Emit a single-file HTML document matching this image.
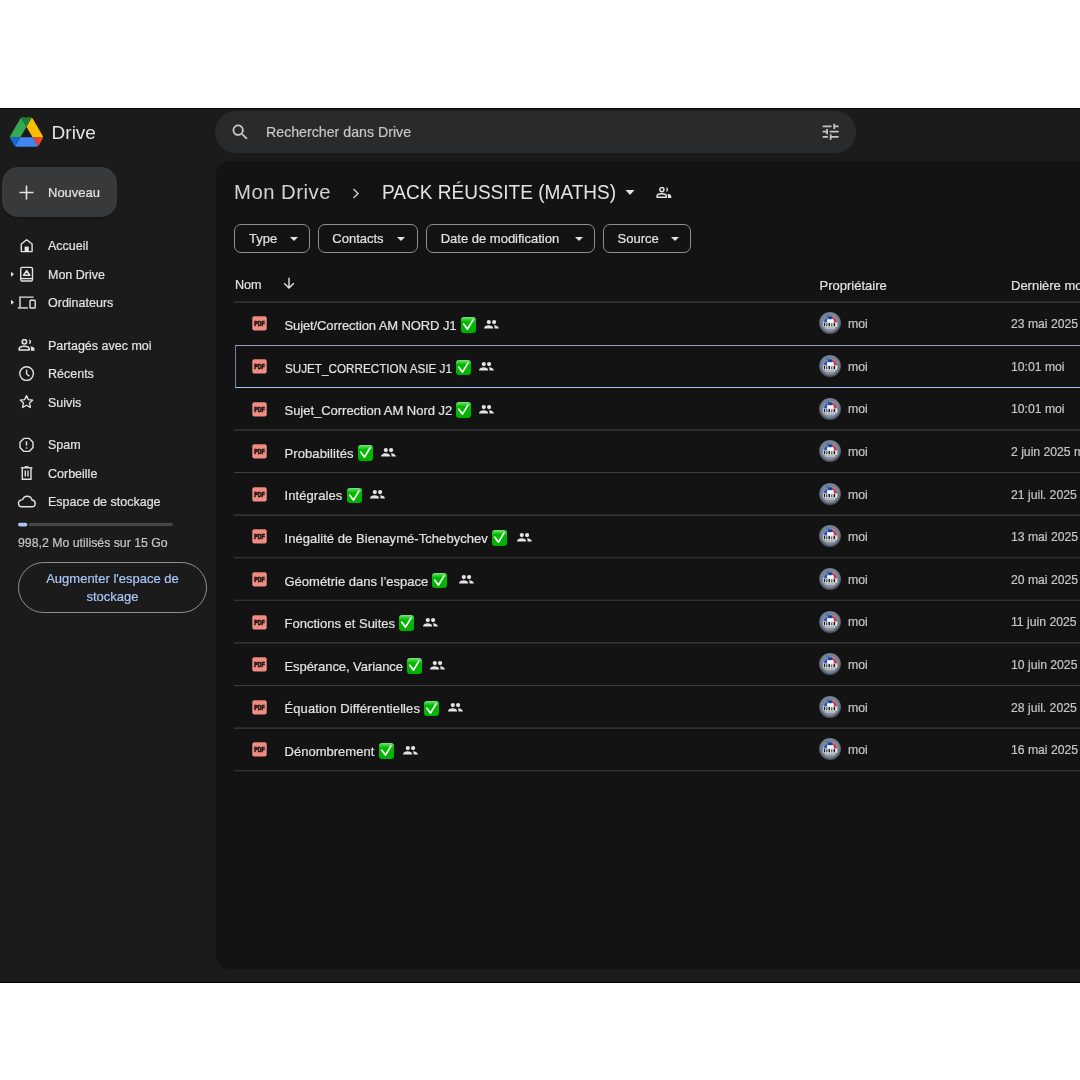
<!DOCTYPE html>
<html lang="fr">
<head>
<meta charset="utf-8">
<title>Drive</title>
<style>
*{margin:0;padding:0;box-sizing:border-box}
html,body{width:1080px;height:1080px;overflow:hidden;background:#fff}
body{position:relative;font-family:"Liberation Sans",Arial,sans-serif;color:#e3e3e3;-webkit-text-stroke:0.2px currentColor}
.abs{position:absolute}
#app{position:absolute;left:0;top:108px;width:1080px;height:875px;background:#1b1b1b;border-top:1px solid #070707;border-bottom:1px solid #070707;overflow:hidden}
.t{position:absolute;white-space:nowrap;line-height:1}
#panel{position:absolute;left:216px;top:161px;width:900px;height:808px;background:#131313;border-radius:14px}
#search{position:absolute;left:215px;top:111px;width:641px;height:42px;background:#282a2c;border-radius:21px}
#newbtn{position:absolute;left:2px;top:167px;width:115px;height:50px;background:#37393b;border-radius:16px;box-shadow:0 1px 2px rgba(0,0,0,.35)}
.nav{font-size:12.5px;color:#e3e3e3}
.chip{position:absolute;top:224px;height:28.5px;border:1px solid #8e918f;border-radius:7px}
.chipt{font-size:13px;color:#e3e3e3}
.fn{position:absolute;left:284.5px;font-size:13px;color:#e3e3e3;white-space:nowrap;line-height:1}
.ck{position:absolute;width:15px;height:15.6px;border-radius:3px;background:linear-gradient(#7de87d 0,#2fcb2f 18%,#00bb00 30%,#00b000 100%)}
.ck svg{position:absolute;left:0;top:0}
.ppl{position:absolute}
.own{position:absolute;left:848px;font-size:12.3px;color:#c4c7c5;line-height:1}
.date{position:absolute;left:1011px;font-size:12.2px;color:#c4c7c5;line-height:1;white-space:nowrap}
.av{position:absolute;left:819px;width:22px;height:22px}
</style>
</head>
<body>
<div id="wrap" style="position:absolute;left:0;top:0;width:1080px;height:1080px;will-change:transform">
<svg width="0" height="0" style="position:absolute">
<defs>
<radialGradient id="avg" cx="50%" cy="50%" r="50%"><stop offset="0" stop-color="#b0b6c0"/><stop offset="0.7" stop-color="#8e97a5"/><stop offset="1" stop-color="#6f7987"/></radialGradient>
<radialGradient id="avr" cx="50%" cy="45%" r="50%"><stop offset="0.8" stop-color="#7c8697"/><stop offset="1" stop-color="#4e5764"/></radialGradient>
<filter id="avb" x="-10%" y="-10%" width="120%" height="120%"><feGaussianBlur stdDeviation="0.35"/></filter>
<symbol id="avatar" viewBox="0 0 22 22">
<circle cx="11" cy="11" r="11" fill="url(#avr)"/>
<circle cx="11" cy="11" r="9.2" fill="url(#avg)"/>
<g filter="url(#avb)">
<path d="M4.6 13 L5.4 8 C5.9 6.6 7 5.8 8.4 5.9 L8 10.6 L6.6 13.4 Z" fill="#2b58c0"/>
<path d="M7.2 3.4 C8.2 2.8 9.6 2.8 10.3 3.5 L9.5 5.5 L7.6 5.7 Z" fill="#4471d0"/>
<path d="M9 4.7 C10.3 4 12.3 4 13.8 4.9 L13.3 7.3 L9.2 7.3 Z" fill="#1f3f8f"/>
<path d="M13.6 5.3 C15.6 5.7 17.2 7.5 17.8 9.6 L17.4 12 L15.4 12.2 L14.3 7.9 Z" fill="#dc2f3c"/>
<path d="M13.8 3.5 C14.8 3.6 15.6 4.3 15.8 4.9 L14.2 5.3 Z" fill="#ec7a84"/>
<rect x="8.2" y="7.3" width="6.4" height="3.3" fill="#f4f5f7"/>
<rect x="4" y="10.5" width="14.2" height="4.2" fill="#eceef2"/>
<path d="M4.8 11 h1.4 v3.2 h-1.4z M7.3 11.2 h1 v3 h-1z M9.5 11 h1.5 v3.2 h-1.5z M12.3 11.4 h1 v2.8 h-1z M14.6 11 h1.6 v3.2 h-1.6z" fill="#1c1e22"/>
<rect x="6.2" y="14.8" width="9.8" height="1.9" fill="#d4d7dc"/>
<path d="M7 15.4 h1 v0.8 h-1z M9.2 15.4 h1.2 v0.8 h-1.2z M11.6 15.4 h1 v0.8 h-1z M13.6 15.4 h1.2 v0.8 h-1.2z" fill="#5a5e66"/>
</g>
</symbol>
<symbol id="pplo" viewBox="0 0 16 11">
<circle cx="5.9" cy="2.6" r="2.05" fill="none" stroke="#e3e3e3" stroke-width="1.5"/>
<path d="M1 10.2 V9.4 C1 7.8 3.3 6.8 5.7 6.8 C8.1 6.8 10.4 7.8 10.4 9.4 V10.2 Z" fill="none" stroke="#e3e3e3" stroke-width="1.4" stroke-linejoin="round"/>
<path d="M9.9 0.4 A2.25 2.2 0 0 1 9.9 4.8 C10.5 4 10.7 3.3 10.7 2.6 C10.7 1.9 10.5 1.2 9.9 0.4 Z" fill="#e3e3e3"/>
<path d="M11.6 6.8 C14 7.1 15.3 8.2 15.3 9.6 V10.9 H11.9 V9.4 C11.9 8.3 11.9 7.5 11.6 6.8 Z" fill="#e3e3e3"/>
</symbol>
</defs>
</svg>
<div id="app"></div>
<div id="panel"></div>
<div id="search"></div>

<!-- Logo -->
<svg class="abs" style="left:10px;top:117px" width="33" height="30" viewBox="0 0 87.3 78">
<path d="m6.6 66.85 3.85 6.65c.8 1.4 1.95 2.5 3.3 3.3l13.75-23.8h-27.5c0 1.55.4 3.1 1.2 4.5z" fill="#1967d2"/>
<path d="m43.65 25-13.75-23.8c-1.35.8-2.5 1.9-3.3 3.3l-25.4 44a9.06 9.06 0 0 0 -1.2 4.5h27.5z" fill="#34a853"/>
<path d="m73.55 76.8c1.35-.8 2.5-1.9 3.3-3.3l1.6-2.75 7.65-13.25c.8-1.4 1.2-2.95 1.2-4.5h-27.502l5.852 11.5z" fill="#ea4335"/>
<path d="m43.65 25 13.75-23.8c-1.35-.8-2.9-1.2-4.5-1.2h-18.5c-1.6 0-3.15.45-4.5 1.2z" fill="#188038"/>
<path d="m59.8 53h-32.3l-13.75 23.8c1.35.8 2.9 1.2 4.5 1.2h50.8c1.6 0 3.15-.45 4.5-1.2z" fill="#4285f4"/>
<path d="m73.4 26.5-12.7-22c-.8-1.4-1.95-2.5-3.3-3.3l-13.75 23.8 16.15 28h27.45c0-1.55-.4-3.1-1.2-4.5z" fill="#fbbc04"/>
</svg>
<div class="t" style="left:51.6px;top:122.6px;font-size:19px;-webkit-text-stroke:0;color:#e3e3e3">Drive</div>

<!-- search -->
<svg class="abs" style="left:230.3px;top:122.4px" width="20.6" height="20.6" viewBox="0 0 24 24"><path fill="#c4c7c5" d="M15.5 14h-.79l-.28-.27C15.41 12.59 16 11.110 16 9.5 16 5.91 13.09 3 9.5 3S3 5.91 3 9.5 5.91 16 9.5 16c1.61 0 3.09-.59 4.23-1.570l.27.28v.79l5 4.99L20.49 19l-4.99-5zm-6 0C7.01 14 5 11.99 5 9.5S7.01 5 9.5 5 14 7.01 14 9.5 11.99 14 9.5 14z"/></svg>
<div class="t" style="left:266px;top:125.2px;font-size:14.2px;color:#c4c7c5">Rechercher dans Drive</div>
<svg class="abs" style="left:820.3px;top:121.1px" width="21.3" height="21.3" viewBox="0 0 24 24"><path fill="#c4c7c5" d="M3 17v2h6v-2H3zM3 5v2h10V5H3zm10 16v-2h8v-2h-8v-2h-2v6h2zM7 9v2H3v2h4v2h2V9H7zm14 4v-2H11v2h10zm-6-4h2V7h4V5h-4V3h-2v6z"/></svg>

<!-- Nouveau -->
<div id="newbtn"></div>
<svg class="abs" style="left:19px;top:185px" width="15" height="15" viewBox="0 0 15 15"><path d="M7.5 0.5v14M0.5 7.5h14" stroke="#e3e3e3" stroke-width="1.6"/></svg>
<div class="t" style="left:48px;top:186px;font-size:13px;color:#e3e3e3">Nouveau</div>

<!-- sidebar icons -->
<svg class="abs" style="left:0;top:0" width="216" height="620" viewBox="0 0 216 620" fill="none" stroke="#e3e3e3" stroke-width="1.4">
 <!-- home -->
 <path d="M21.3 244 L26.7 239.8 L32.1 244 V251.6 H21.3 Z" stroke-linejoin="round"/>
 <rect x="24.6" y="246.6" width="4.2" height="5" fill="#e3e3e3" stroke="none"/>
 <!-- mon drive expand tri -->
 <path d="M11 271.7 L14 274.2 L11 276.7 Z" fill="#e3e3e3" stroke="none"/>
 <rect x="20.7" y="267.4" width="11.8" height="13.6" rx="1.6"/>
 <path d="M20.7 278.6 H32.5"/>
 <path d="M26.7 270.6 L29.7 275.3 L23.6 275.3 Z" stroke-width="1.6" stroke-linejoin="round"/>
 <!-- ordinateurs -->
 <path d="M11 299.7 L14 302.2 L11 304.7 Z" fill="#e3e3e3" stroke="none"/>
 <path d="M33.6 297.1 H20 V307.4"/>
 <path d="M17.8 307.9 H28"/>
 <rect x="30" y="300.3" width="5.2" height="7.7" rx="0.8"/>
 <!-- recents -->
 <circle cx="26.6" cy="373.6" r="6.8"/>
 <path d="M26.6 369.8 V374 L29.4 376.3"/>
 <!-- suivis -->
 <path d="M26.5 395.6 L28.4 399.6 L32.8 400.1 L29.5 403.1 L30.4 407.5 L26.5 405.3 L22.6 407.5 L23.5 403.1 L20.2 400.1 L24.6 399.6 Z" stroke-linejoin="round" stroke-width="1.3"/>
 <!-- spam -->
 <path d="M23.8 438.4 H29.2 L33 442.2 V447.6 L29.2 451.4 H23.8 L20 447.6 V442.2 Z" stroke-linejoin="round"/>
 <path d="M26.5 441.3 V445.6"/>
 <circle cx="26.5" cy="448" r="0.8" fill="#e3e3e3" stroke="none"/>
 <!-- corbeille -->
 <path d="M20.9 467.8 H32.4"/>
 <path d="M24.6 466.8 H28.6"/>
 <path d="M22.3 468 V479.2 H31 V468"/>
 <path d="M25.3 470.5 V476.6 M28 470.5 V476.6"/>
 <!-- cloud -->
 <path d="M22 506.8 H31.8 C34 506.8 35.2 505.2 35.2 503.4 C35.2 501.5 33.8 500.1 32 500 C31.4 497.6 29.4 496.3 27.2 496.3 C25.2 496.3 23.4 497.5 22.7 499.6 C20.2 499.8 18.5 501.3 18.5 503.3 C18.5 505.3 20 506.8 22 506.8 Z" stroke-linejoin="round"/>
 <!-- storage -->
 <rect x="28.8" y="523" width="144.2" height="3" rx="1.5" fill="#444746" stroke="none"/>
 <rect x="18" y="522.8" width="9.4" height="3.6" rx="1.8" fill="#a8c7fa" stroke="#1b1b1b" stroke-width="0"/>
</svg>

<svg class="abs" style="left:18.1px;top:339.1px" width="17.4" height="11.9" viewBox="0 0 16 11"><use href="#pplo"/></svg>
<div class="t nav" style="left:48px;top:240px">Accueil</div>
<div class="t nav" style="left:48px;top:269px">Mon Drive</div>
<div class="t nav" style="left:48px;top:297px">Ordinateurs</div>
<div class="t nav" style="left:48px;top:340px">Partagés avec moi</div>
<div class="t nav" style="left:48px;top:368px">Récents</div>
<div class="t nav" style="left:48px;top:396.5px">Suivis</div>
<div class="t nav" style="left:48px;top:439px">Spam</div>
<div class="t nav" style="left:48px;top:467.5px">Corbeille</div>
<div class="t nav" style="left:48px;top:496px">Espace de stockage</div>
<div class="t" style="left:18px;top:537px;font-size:12.3px;color:#c4c7c5">998,2 Mo utilisés sur 15 Go</div>
<div class="abs" style="left:18px;top:562px;width:189px;height:51px;border:1px solid #8e918f;border-radius:26px"></div>
<div class="abs" style="left:18px;top:570.4px;width:189px;text-align:center;font-size:13px;line-height:17.8px;color:#a8c7fa">Augmenter l'espace de<br>stockage</div>

<!-- breadcrumb -->
<div class="t" style="left:234px;top:182px;font-size:20.3px;color:#d2d4d3;-webkit-text-stroke:0;letter-spacing:0.5px">Mon Drive</div>
<svg class="abs" style="left:352px;top:187.5px" width="8" height="11" viewBox="0 0 8 11"><path d="M1.5 1 L6 5.5 L1.5 10" stroke="#c4c7c5" stroke-width="1.5" fill="none"/></svg>
<div class="t" style="left:382px;top:182px;font-size:20.3px;color:#e3e3e3;-webkit-text-stroke:0;transform:scaleX(0.9387);transform-origin:0 0">PACK RÉUSSITE (MATHS)</div>
<svg class="abs" style="left:625px;top:190px" width="10" height="5" viewBox="0 0 10 5"><path d="M0.5 0 L9.5 0 L5 5 Z" fill="#e3e3e3"/></svg>
<svg class="abs" style="left:656px;top:187px" width="16" height="11"><use href="#pplo"/></svg>

<!-- chips -->
<div class="chip" style="left:234px;width:76px"></div>
<div class="t chipt" style="left:249px;top:232px">Type</div>
<svg class="abs" style="left:289.5px;top:236.5px" width="8" height="4" viewBox="0 0 8 4"><path d="M0 0H8L4 4Z" fill="#e3e3e3"/></svg>
<div class="chip" style="left:317.5px;width:100.5px"></div>
<div class="t chipt" style="left:332.3px;top:232px">Contacts</div>
<svg class="abs" style="left:397px;top:236.5px" width="8" height="4" viewBox="0 0 8 4"><path d="M0 0H8L4 4Z" fill="#e3e3e3"/></svg>
<div class="chip" style="left:425.5px;width:169.5px"></div>
<div class="t chipt" style="left:440.7px;top:232px">Date de modification</div>
<svg class="abs" style="left:574.5px;top:236.5px" width="8" height="4" viewBox="0 0 8 4"><path d="M0 0H8L4 4Z" fill="#e3e3e3"/></svg>
<div class="chip" style="left:602.5px;width:88.5px"></div>
<div class="t chipt" style="left:617.6px;top:232px">Source</div>
<svg class="abs" style="left:670.8px;top:236.5px" width="8" height="4" viewBox="0 0 8 4"><path d="M0 0H8L4 4Z" fill="#e3e3e3"/></svg>

<!-- header row -->
<div class="t" style="left:235px;top:278.5px;font-size:12.6px;color:#e3e3e3">Nom</div>
<svg class="abs" style="left:283px;top:276.8px" width="12" height="12" viewBox="0 0 12 12"><path d="M6 0.8 V11 M1.2 6.3 L6 11 L10.8 6.3" stroke="#e3e3e3" stroke-width="1.4" fill="none"/></svg>
<div class="t" style="left:819.5px;top:278.5px;font-size:13px;color:#e3e3e3">Propriétaire</div>
<div class="t" style="left:1011px;top:278.5px;font-size:13px;color:#e3e3e3">Dernière modification</div>

<!--ROWS-->
<svg class="abs" style="left:0;top:0" width="1080" height="800"><line x1="234" x2="1080" y1="302.10" y2="302.10" stroke="#3c3d3e" stroke-width="1.1"/><line x1="234" x2="1080" y1="429.90" y2="429.90" stroke="#3c3d3e" stroke-width="1.1"/><line x1="234" x2="1080" y1="472.50" y2="472.50" stroke="#3c3d3e" stroke-width="1.1"/><line x1="234" x2="1080" y1="515.10" y2="515.10" stroke="#3c3d3e" stroke-width="1.1"/><line x1="234" x2="1080" y1="557.70" y2="557.70" stroke="#3c3d3e" stroke-width="1.1"/><line x1="234" x2="1080" y1="600.30" y2="600.30" stroke="#3c3d3e" stroke-width="1.1"/><line x1="234" x2="1080" y1="642.90" y2="642.90" stroke="#3c3d3e" stroke-width="1.1"/><line x1="234" x2="1080" y1="685.50" y2="685.50" stroke="#3c3d3e" stroke-width="1.1"/><line x1="234" x2="1080" y1="728.10" y2="728.10" stroke="#3c3d3e" stroke-width="1.1"/><line x1="234" x2="1080" y1="770.70" y2="770.70" stroke="#3c3d3e" stroke-width="1.1"/></svg>
<svg class="abs" style="left:252px;top:316.4px" width="15" height="15" viewBox="0 0 15 15"><rect x="0.3" y="0.2" width="14.4" height="14.2" rx="2" fill="#f28b82"/><text x="2.3" y="9.9" font-family="Liberation Sans,sans-serif" font-weight="bold" font-size="6.5" fill="#141414" stroke="#141414" stroke-width="0.65" textLength="10.3" lengthAdjust="spacingAndGlyphs">PDF</text></svg>
<div class="fn" style="top:318.9px;letter-spacing:-0.109px">Sujet/Correction AM NORD J1</div>
<div class="ck" style="left:460.6px;top:317.2px"><svg width="15" height="15.6" viewBox="0 0 15 15.6"><path d="M2.8 7.3 L6.5 12.1 L11.9 3.1" stroke="#fff" stroke-width="1.75" fill="none" stroke-linecap="round" stroke-linejoin="round"/></svg></div>
<svg class="ppl" style="left:484.0px;top:319.7px" width="15" height="9" viewBox="0 0 15 9"><circle cx="4.8" cy="2.1" r="2.1" fill="#e3e3e3"/><circle cx="10.1" cy="2.1" r="2.1" fill="#e3e3e3"/><path d="M0 8.6 C0 6.2 2.4 5.2 4.6 5.2 C6.8 5.2 9.2 6.2 9.2 8.6 Z" fill="#e3e3e3"/><path d="M10 5.2 C12.6 5.4 14.9 6.4 14.9 8.6 H10.6 C10.6 7.2 10.4 6 10 5.2 Z" fill="#e3e3e3"/></svg>
<svg class="av" style="top:312.4px" viewBox="0 0 22 22"><use href="#avatar"/></svg>
<div class="own" style="top:318.2px">moi</div>
<div class="date" style="top:318.2px">23 mai 2025</div>
<svg class="abs" style="left:252px;top:359.0px" width="15" height="15" viewBox="0 0 15 15"><rect x="0.3" y="0.2" width="14.4" height="14.2" rx="2" fill="#f28b82"/><text x="2.3" y="9.9" font-family="Liberation Sans,sans-serif" font-weight="bold" font-size="6.5" fill="#141414" stroke="#141414" stroke-width="0.65" textLength="10.3" lengthAdjust="spacingAndGlyphs">PDF</text></svg>
<div class="fn" style="top:361.5px;transform:scaleX(0.8990);transform-origin:0 0">SUJET_CORRECTION ASIE J1</div>
<div class="ck" style="left:455.6px;top:359.8px"><svg width="15" height="15.6" viewBox="0 0 15 15.6"><path d="M2.8 7.3 L6.5 12.1 L11.9 3.1" stroke="#fff" stroke-width="1.75" fill="none" stroke-linecap="round" stroke-linejoin="round"/></svg></div>
<svg class="ppl" style="left:478.6px;top:362.3px" width="15" height="9" viewBox="0 0 15 9"><circle cx="4.8" cy="2.1" r="2.1" fill="#e3e3e3"/><circle cx="10.1" cy="2.1" r="2.1" fill="#e3e3e3"/><path d="M0 8.6 C0 6.2 2.4 5.2 4.6 5.2 C6.8 5.2 9.2 6.2 9.2 8.6 Z" fill="#e3e3e3"/><path d="M10 5.2 C12.6 5.4 14.9 6.4 14.9 8.6 H10.6 C10.6 7.2 10.4 6 10 5.2 Z" fill="#e3e3e3"/></svg>
<svg class="av" style="top:355.0px" viewBox="0 0 22 22"><use href="#avatar"/></svg>
<div class="own" style="top:360.8px">moi</div>
<div class="date" style="top:360.8px">10:01 moi</div>
<svg class="abs" style="left:252px;top:401.6px" width="15" height="15" viewBox="0 0 15 15"><rect x="0.3" y="0.2" width="14.4" height="14.2" rx="2" fill="#f28b82"/><text x="2.3" y="9.9" font-family="Liberation Sans,sans-serif" font-weight="bold" font-size="6.5" fill="#141414" stroke="#141414" stroke-width="0.65" textLength="10.3" lengthAdjust="spacingAndGlyphs">PDF</text></svg>
<div class="fn" style="top:404.1px;letter-spacing:-0.024px">Sujet_Correction AM Nord J2</div>
<div class="ck" style="left:456.4px;top:402.4px"><svg width="15" height="15.6" viewBox="0 0 15 15.6"><path d="M2.8 7.3 L6.5 12.1 L11.9 3.1" stroke="#fff" stroke-width="1.75" fill="none" stroke-linecap="round" stroke-linejoin="round"/></svg></div>
<svg class="ppl" style="left:479.4px;top:404.9px" width="15" height="9" viewBox="0 0 15 9"><circle cx="4.8" cy="2.1" r="2.1" fill="#e3e3e3"/><circle cx="10.1" cy="2.1" r="2.1" fill="#e3e3e3"/><path d="M0 8.6 C0 6.2 2.4 5.2 4.6 5.2 C6.8 5.2 9.2 6.2 9.2 8.6 Z" fill="#e3e3e3"/><path d="M10 5.2 C12.6 5.4 14.9 6.4 14.9 8.6 H10.6 C10.6 7.2 10.4 6 10 5.2 Z" fill="#e3e3e3"/></svg>
<svg class="av" style="top:397.6px" viewBox="0 0 22 22"><use href="#avatar"/></svg>
<div class="own" style="top:403.4px">moi</div>
<div class="date" style="top:403.4px">10:01 moi</div>
<svg class="abs" style="left:252px;top:444.2px" width="15" height="15" viewBox="0 0 15 15"><rect x="0.3" y="0.2" width="14.4" height="14.2" rx="2" fill="#f28b82"/><text x="2.3" y="9.9" font-family="Liberation Sans,sans-serif" font-weight="bold" font-size="6.5" fill="#141414" stroke="#141414" stroke-width="0.65" textLength="10.3" lengthAdjust="spacingAndGlyphs">PDF</text></svg>
<div class="fn" style="top:446.7px;letter-spacing:0.098px">Probabilités</div>
<div class="ck" style="left:357.8px;top:445.0px"><svg width="15" height="15.6" viewBox="0 0 15 15.6"><path d="M2.8 7.3 L6.5 12.1 L11.9 3.1" stroke="#fff" stroke-width="1.75" fill="none" stroke-linecap="round" stroke-linejoin="round"/></svg></div>
<svg class="ppl" style="left:381.4px;top:447.5px" width="15" height="9" viewBox="0 0 15 9"><circle cx="4.8" cy="2.1" r="2.1" fill="#e3e3e3"/><circle cx="10.1" cy="2.1" r="2.1" fill="#e3e3e3"/><path d="M0 8.6 C0 6.2 2.4 5.2 4.6 5.2 C6.8 5.2 9.2 6.2 9.2 8.6 Z" fill="#e3e3e3"/><path d="M10 5.2 C12.6 5.4 14.9 6.4 14.9 8.6 H10.6 C10.6 7.2 10.4 6 10 5.2 Z" fill="#e3e3e3"/></svg>
<svg class="av" style="top:440.2px" viewBox="0 0 22 22"><use href="#avatar"/></svg>
<div class="own" style="top:446.0px">moi</div>
<div class="date" style="top:446.0px">2 juin 2025 moi</div>
<svg class="abs" style="left:252px;top:486.8px" width="15" height="15" viewBox="0 0 15 15"><rect x="0.3" y="0.2" width="14.4" height="14.2" rx="2" fill="#f28b82"/><text x="2.3" y="9.9" font-family="Liberation Sans,sans-serif" font-weight="bold" font-size="6.5" fill="#141414" stroke="#141414" stroke-width="0.65" textLength="10.3" lengthAdjust="spacingAndGlyphs">PDF</text></svg>
<div class="fn" style="top:489.3px;letter-spacing:0.071px">Intégrales</div>
<div class="ck" style="left:346.5px;top:487.6px"><svg width="15" height="15.6" viewBox="0 0 15 15.6"><path d="M2.8 7.3 L6.5 12.1 L11.9 3.1" stroke="#fff" stroke-width="1.75" fill="none" stroke-linecap="round" stroke-linejoin="round"/></svg></div>
<svg class="ppl" style="left:369.8px;top:490.1px" width="15" height="9" viewBox="0 0 15 9"><circle cx="4.8" cy="2.1" r="2.1" fill="#e3e3e3"/><circle cx="10.1" cy="2.1" r="2.1" fill="#e3e3e3"/><path d="M0 8.6 C0 6.2 2.4 5.2 4.6 5.2 C6.8 5.2 9.2 6.2 9.2 8.6 Z" fill="#e3e3e3"/><path d="M10 5.2 C12.6 5.4 14.9 6.4 14.9 8.6 H10.6 C10.6 7.2 10.4 6 10 5.2 Z" fill="#e3e3e3"/></svg>
<svg class="av" style="top:482.8px" viewBox="0 0 22 22"><use href="#avatar"/></svg>
<div class="own" style="top:488.6px">moi</div>
<div class="date" style="top:488.6px">21 juil. 2025</div>
<svg class="abs" style="left:252px;top:529.4px" width="15" height="15" viewBox="0 0 15 15"><rect x="0.3" y="0.2" width="14.4" height="14.2" rx="2" fill="#f28b82"/><text x="2.3" y="9.9" font-family="Liberation Sans,sans-serif" font-weight="bold" font-size="6.5" fill="#141414" stroke="#141414" stroke-width="0.65" textLength="10.3" lengthAdjust="spacingAndGlyphs">PDF</text></svg>
<div class="fn" style="top:531.9px;letter-spacing:0.056px">Inégalité de Bienaymé-Tchebychev</div>
<div class="ck" style="left:492.1px;top:530.2px"><svg width="15" height="15.6" viewBox="0 0 15 15.6"><path d="M2.8 7.3 L6.5 12.1 L11.9 3.1" stroke="#fff" stroke-width="1.75" fill="none" stroke-linecap="round" stroke-linejoin="round"/></svg></div>
<svg class="ppl" style="left:516.5px;top:532.7px" width="15" height="9" viewBox="0 0 15 9"><circle cx="4.8" cy="2.1" r="2.1" fill="#e3e3e3"/><circle cx="10.1" cy="2.1" r="2.1" fill="#e3e3e3"/><path d="M0 8.6 C0 6.2 2.4 5.2 4.6 5.2 C6.8 5.2 9.2 6.2 9.2 8.6 Z" fill="#e3e3e3"/><path d="M10 5.2 C12.6 5.4 14.9 6.4 14.9 8.6 H10.6 C10.6 7.2 10.4 6 10 5.2 Z" fill="#e3e3e3"/></svg>
<svg class="av" style="top:525.4px" viewBox="0 0 22 22"><use href="#avatar"/></svg>
<div class="own" style="top:531.2px">moi</div>
<div class="date" style="top:531.2px">13 mai 2025</div>
<svg class="abs" style="left:252px;top:572.0px" width="15" height="15" viewBox="0 0 15 15"><rect x="0.3" y="0.2" width="14.4" height="14.2" rx="2" fill="#f28b82"/><text x="2.3" y="9.9" font-family="Liberation Sans,sans-serif" font-weight="bold" font-size="6.5" fill="#141414" stroke="#141414" stroke-width="0.65" textLength="10.3" lengthAdjust="spacingAndGlyphs">PDF</text></svg>
<div class="fn" style="top:574.5px;letter-spacing:-0.004px">Géométrie dans l’espace</div>
<div class="ck" style="left:432.4px;top:572.8px"><svg width="15" height="15.6" viewBox="0 0 15 15.6"><path d="M2.8 7.3 L6.5 12.1 L11.9 3.1" stroke="#fff" stroke-width="1.75" fill="none" stroke-linecap="round" stroke-linejoin="round"/></svg></div>
<svg class="ppl" style="left:459.4px;top:575.3px" width="15" height="9" viewBox="0 0 15 9"><circle cx="4.8" cy="2.1" r="2.1" fill="#e3e3e3"/><circle cx="10.1" cy="2.1" r="2.1" fill="#e3e3e3"/><path d="M0 8.6 C0 6.2 2.4 5.2 4.6 5.2 C6.8 5.2 9.2 6.2 9.2 8.6 Z" fill="#e3e3e3"/><path d="M10 5.2 C12.6 5.4 14.9 6.4 14.9 8.6 H10.6 C10.6 7.2 10.4 6 10 5.2 Z" fill="#e3e3e3"/></svg>
<svg class="av" style="top:568.0px" viewBox="0 0 22 22"><use href="#avatar"/></svg>
<div class="own" style="top:573.8px">moi</div>
<div class="date" style="top:573.8px">20 mai 2025</div>
<svg class="abs" style="left:252px;top:614.6px" width="15" height="15" viewBox="0 0 15 15"><rect x="0.3" y="0.2" width="14.4" height="14.2" rx="2" fill="#f28b82"/><text x="2.3" y="9.9" font-family="Liberation Sans,sans-serif" font-weight="bold" font-size="6.5" fill="#141414" stroke="#141414" stroke-width="0.65" textLength="10.3" lengthAdjust="spacingAndGlyphs">PDF</text></svg>
<div class="fn" style="top:617.1px;letter-spacing:0.002px">Fonctions et Suites</div>
<div class="ck" style="left:399.3px;top:615.4px"><svg width="15" height="15.6" viewBox="0 0 15 15.6"><path d="M2.8 7.3 L6.5 12.1 L11.9 3.1" stroke="#fff" stroke-width="1.75" fill="none" stroke-linecap="round" stroke-linejoin="round"/></svg></div>
<svg class="ppl" style="left:423.0px;top:617.9px" width="15" height="9" viewBox="0 0 15 9"><circle cx="4.8" cy="2.1" r="2.1" fill="#e3e3e3"/><circle cx="10.1" cy="2.1" r="2.1" fill="#e3e3e3"/><path d="M0 8.6 C0 6.2 2.4 5.2 4.6 5.2 C6.8 5.2 9.2 6.2 9.2 8.6 Z" fill="#e3e3e3"/><path d="M10 5.2 C12.6 5.4 14.9 6.4 14.9 8.6 H10.6 C10.6 7.2 10.4 6 10 5.2 Z" fill="#e3e3e3"/></svg>
<svg class="av" style="top:610.6px" viewBox="0 0 22 22"><use href="#avatar"/></svg>
<div class="own" style="top:616.4px">moi</div>
<div class="date" style="top:616.4px">11 juin 2025</div>
<svg class="abs" style="left:252px;top:657.2px" width="15" height="15" viewBox="0 0 15 15"><rect x="0.3" y="0.2" width="14.4" height="14.2" rx="2" fill="#f28b82"/><text x="2.3" y="9.9" font-family="Liberation Sans,sans-serif" font-weight="bold" font-size="6.5" fill="#141414" stroke="#141414" stroke-width="0.65" textLength="10.3" lengthAdjust="spacingAndGlyphs">PDF</text></svg>
<div class="fn" style="top:659.7px;letter-spacing:-0.069px">Espérance, Variance</div>
<div class="ck" style="left:407.1px;top:658.0px"><svg width="15" height="15.6" viewBox="0 0 15 15.6"><path d="M2.8 7.3 L6.5 12.1 L11.9 3.1" stroke="#fff" stroke-width="1.75" fill="none" stroke-linecap="round" stroke-linejoin="round"/></svg></div>
<svg class="ppl" style="left:430.0px;top:660.5px" width="15" height="9" viewBox="0 0 15 9"><circle cx="4.8" cy="2.1" r="2.1" fill="#e3e3e3"/><circle cx="10.1" cy="2.1" r="2.1" fill="#e3e3e3"/><path d="M0 8.6 C0 6.2 2.4 5.2 4.6 5.2 C6.8 5.2 9.2 6.2 9.2 8.6 Z" fill="#e3e3e3"/><path d="M10 5.2 C12.6 5.4 14.9 6.4 14.9 8.6 H10.6 C10.6 7.2 10.4 6 10 5.2 Z" fill="#e3e3e3"/></svg>
<svg class="av" style="top:653.2px" viewBox="0 0 22 22"><use href="#avatar"/></svg>
<div class="own" style="top:659.0px">moi</div>
<div class="date" style="top:659.0px">10 juin 2025</div>
<svg class="abs" style="left:252px;top:699.8px" width="15" height="15" viewBox="0 0 15 15"><rect x="0.3" y="0.2" width="14.4" height="14.2" rx="2" fill="#f28b82"/><text x="2.3" y="9.9" font-family="Liberation Sans,sans-serif" font-weight="bold" font-size="6.5" fill="#141414" stroke="#141414" stroke-width="0.65" textLength="10.3" lengthAdjust="spacingAndGlyphs">PDF</text></svg>
<div class="fn" style="top:702.3px;letter-spacing:0.085px">Équation Différentielles</div>
<div class="ck" style="left:424.2px;top:700.6px"><svg width="15" height="15.6" viewBox="0 0 15 15.6"><path d="M2.8 7.3 L6.5 12.1 L11.9 3.1" stroke="#fff" stroke-width="1.75" fill="none" stroke-linecap="round" stroke-linejoin="round"/></svg></div>
<svg class="ppl" style="left:447.9px;top:703.1px" width="15" height="9" viewBox="0 0 15 9"><circle cx="4.8" cy="2.1" r="2.1" fill="#e3e3e3"/><circle cx="10.1" cy="2.1" r="2.1" fill="#e3e3e3"/><path d="M0 8.6 C0 6.2 2.4 5.2 4.6 5.2 C6.8 5.2 9.2 6.2 9.2 8.6 Z" fill="#e3e3e3"/><path d="M10 5.2 C12.6 5.4 14.9 6.4 14.9 8.6 H10.6 C10.6 7.2 10.4 6 10 5.2 Z" fill="#e3e3e3"/></svg>
<svg class="av" style="top:695.8px" viewBox="0 0 22 22"><use href="#avatar"/></svg>
<div class="own" style="top:701.6px">moi</div>
<div class="date" style="top:701.6px">28 juil. 2025</div>
<svg class="abs" style="left:252px;top:742.4px" width="15" height="15" viewBox="0 0 15 15"><rect x="0.3" y="0.2" width="14.4" height="14.2" rx="2" fill="#f28b82"/><text x="2.3" y="9.9" font-family="Liberation Sans,sans-serif" font-weight="bold" font-size="6.5" fill="#141414" stroke="#141414" stroke-width="0.65" textLength="10.3" lengthAdjust="spacingAndGlyphs">PDF</text></svg>
<div class="fn" style="top:744.9px;letter-spacing:0.017px">Dénombrement</div>
<div class="ck" style="left:378.5px;top:743.2px"><svg width="15" height="15.6" viewBox="0 0 15 15.6"><path d="M2.8 7.3 L6.5 12.1 L11.9 3.1" stroke="#fff" stroke-width="1.75" fill="none" stroke-linecap="round" stroke-linejoin="round"/></svg></div>
<svg class="ppl" style="left:402.8px;top:745.7px" width="15" height="9" viewBox="0 0 15 9"><circle cx="4.8" cy="2.1" r="2.1" fill="#e3e3e3"/><circle cx="10.1" cy="2.1" r="2.1" fill="#e3e3e3"/><path d="M0 8.6 C0 6.2 2.4 5.2 4.6 5.2 C6.8 5.2 9.2 6.2 9.2 8.6 Z" fill="#e3e3e3"/><path d="M10 5.2 C12.6 5.4 14.9 6.4 14.9 8.6 H10.6 C10.6 7.2 10.4 6 10 5.2 Z" fill="#e3e3e3"/></svg>
<svg class="av" style="top:738.4px" viewBox="0 0 22 22"><use href="#avatar"/></svg>
<div class="own" style="top:744.2px">moi</div>
<div class="date" style="top:744.2px">16 mai 2025</div>
<div class="abs" style="left:235px;top:345px;width:900px;height:43px;border:1px solid;border-color:#8ea3c9 #8ea3c9 #a6c2f2 #71829f"></div>
<!--/ROWS-->
</div>
</body>
</html>
